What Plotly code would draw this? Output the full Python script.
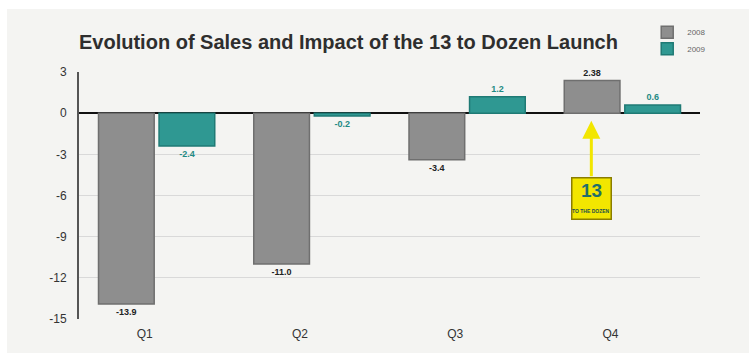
import plotly.graph_objects as go

quarters = ["Q1", "Q2", "Q3", "Q4"]
sales_2008 = [-13.9, -11.0, -3.4, 2.38]
sales_2009 = [-2.4, -0.2, 1.2, 0.6]
labels_2008 = ["-13.9", "-11.0", "-3.4", "2.38"]
labels_2009 = ["-2.4", "-0.2", "1.2", "0.6"]
y_ticks = [3, 0, -3, -6, -9, -12, -15]

GRAY = "#8e8e8e"
TEAL = "#2f9892"

fig = go.Figure()
fig.add_trace(go.Bar(
    name="2008", x=quarters, y=sales_2008, text=labels_2008,
    textposition="outside", cliponaxis=False, legend="legend", showlegend=True,
    textfont=dict(size=9, color="#222222", family="Liberation Sans", weight="bold"),
    marker=dict(color=GRAY, line=dict(color="#6f6f6f", width=1.5)),
))
fig.add_trace(go.Bar(
    name="2009", x=quarters, y=sales_2009, text=labels_2009,
    textposition="outside", cliponaxis=False, legend="legend2", showlegend=True,
    textfont=dict(size=9, color="#1f8a84", family="Liberation Sans", weight="bold"),
    marker=dict(color=TEAL, line=dict(color="#1f7a75", width=1.5)),
))

leg_common = dict(font=dict(size=8, color="#666666"), bgcolor="rgba(0,0,0,0)",
                  xanchor="left", yanchor="middle", itemwidth=30)

fig.update_layout(
    width=749, height=353,
    showlegend=True,
    margin=dict(l=79, r=49, t=72, b=26),
    paper_bgcolor="#ffffff",
    plot_bgcolor="rgba(0,0,0,0)",
    barmode="group", bargap=0.22, bargroupgap=0.08,
    font=dict(family="Liberation Sans, Arial, sans-serif", color="#333333"),
    title=dict(
        text="<b>Evolution of Sales and Impact of the 13 to Dozen Launch</b>",
        x=0.0, xref="paper", xanchor="left",
        y=1 - 42 / 353, yref="container", yanchor="middle",
        font=dict(size=20, color="#2e2e2e"),
    ),
    legend=dict(x=0.915, y=1 + (72 - 31) / 255, **leg_common),
    legend2=dict(x=0.915, y=1 + (72 - 48) / 255, **leg_common),
    xaxis=dict(
        showgrid=False, showline=False, zeroline=False,
        tickfont=dict(size=12, color="#333333"),
        ticklabelstandoff=6, ticklabelshift=-12,
    ),
    yaxis=dict(
        range=[-15, 3], tickvals=y_ticks, ticktext=[str(v) for v in y_ticks],
        showgrid=True, gridcolor="#d9d9d9", gridwidth=1,
        zeroline=True, zerolinecolor="#111111", zerolinewidth=1.5,
        showline=True, linecolor="#555555", linewidth=2,
        tickfont=dict(size=12, color="#333333"),
        ticklabelstandoff=8,
    ),
    shapes=[
        dict(type="rect", xref="paper", yref="paper",
             x0=-0.116, x1=1.2, y0=-0.2, y1=1.255,
             fillcolor="#f4f4f2", line=dict(width=0), layer="below"),
    ],
    annotations=[
        dict(x=2.8, y=-0.55, xref="x", yref="y",
             ax=2.8, ay=-4.7, axref="x", ayref="y",
             showarrow=True, arrowhead=2, arrowsize=1.2, arrowwidth=3,
             arrowcolor="#f2e600", text=""),
        dict(x=2.8, y=-6.2, xref="x", yref="y", showarrow=False,
             text="<b>13</b>", font=dict(size=19, color="#1f6f6a", family="Liberation Sans"),
             bgcolor="#f2e600", bordercolor="#8a7d00", borderwidth=1.5, borderpad=1,
             width=36, height=38, valign="top", align="center"),
        dict(x=2.8, y=-7.15, xref="x", yref="y", showarrow=False,
             text="<b>TO THE DOZEN</b>",
             font=dict(size=5, color="#1f4f4a", family="Liberation Sans"),
             align="center"),
    ],
)

fig.write_html("out.html")
